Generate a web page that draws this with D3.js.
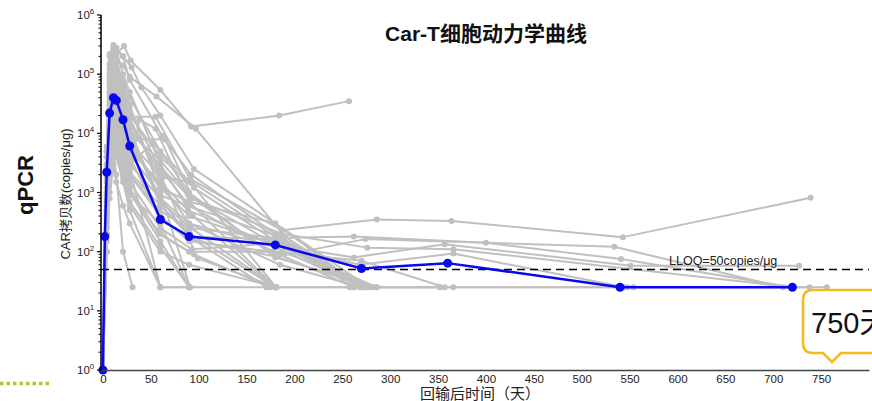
<!DOCTYPE html>
<html><head><meta charset="utf-8">
<script src="https://cdn.jsdelivr.net/npm/d3@7"></script>
<style>
body{margin:0;background:#fff}
svg{display:block}
text{font-family:"Liberation Sans",Arial,"Noto Sans CJK SC",sans-serif}
</style>
</head><body><svg id="c" width="872" height="401"></svg>
<script>
// ---- data ----
const xTicks = [0,50,100,150,200,250,300,350,400,450,500,550,600,650,700,750];
const yTicks = [1,10,100,1000,10000,100000,1000000];
const lloq = 50;
const lloqLabel = "LLOQ=50copies/μg";
const medianDays   = [0,2,4,7,11,14,21,28,60,90,180,270,360,540,720];
const medianValues = [1,180,2200,22000,40000,36000,17000,6100,350,180,130,52,64,25,25];

const p01 = [[0,1],[4,2000],[7,150000],[11,310000],[14,220000],[22,300000],[29,170000],[60,54000],[92,13000],[184,20000],[257,35000]];
const p02 = [[0,1],[4,5000],[7,80000],[11,250000],[14,180000],[21,140000],[28,90000],[56,42000],[97,12000],[190,180],[272,25],[352,25]];
const p03 = [[0,1],[4,1000],[7,30000],[11,120000],[14,200000],[21,60000],[30,19000],[55,19000],[91,1700],[187,230],[286,350],[364,330],[543,176],[739,815]];
const p04 = [[0,1],[4,800],[7,20000],[11,90000],[14,50000],[21,20000],[28,8000],[65,7900],[94,800],[181,82],[274,163],[534,121],[710,25],[738,25]];
const p05 = [[0,1],[4,300],[7,5000],[11,40000],[14,30000],[21,10000],[28,3000],[52,6800],[91,1500],[181,25],[258,25]];
const p06 = [[0,1],[4,1500],[7,60000],[11,150000],[14,100000],[21,50000],[28,15000],[60,2000],[99,77],[181,25]];
const p07 = [[0,1],[4,200],[7,1000],[11,5000],[14,2000],[21,100],[31,25]];
const p08 = [[0,1],[4,3000],[7,100000],[11,200000],[14,150000],[21,40000],[28,10000],[60,800],[90,180],[171,25]];
const p09 = [[0,1],[4,600],[7,12000],[11,30000],[14,20000],[21,8000],[28,2500],[60,25],[90,25]];
const p10 = [[0,1],[4,2500],[7,50000],[11,70000],[14,40000],[21,15000],[28,5000],[60,1500],[89,500],[180,130],[262,80],[357,134],[551,58],[727,58]];
const p11 = [[0,1],[4,400],[7,8000],[11,20000],[14,10000],[21,3000],[28,900],[60,300],[90,25],[171,25]];
const p12 = [[0,1],[4,1200],[7,40000],[11,100000],[14,60000],[21,25000],[28,7000],[62,1800],[93,1500],[185,160],[262,25]];
const p13 = [[0,1],[4,700],[7,15000],[11,50000],[14,35000],[21,12000],[28,4000],[60,350],[94,158],[181,82],[279,25]];
const p14 = [[0,1],[4,5000],[7,200000],[11,260000],[14,120000],[21,70000],[28,30000],[60,1000],[91,25]];
const p15 = [[0,1],[4,100],[7,2000],[11,8000],[14,6000],[21,2500],[28,1000],[60,150],[90,25]];
const p16 = [[0,1],[4,2000],[7,35000],[11,60000],[14,80000],[21,30000],[28,12000],[57,3000],[92,800],[187,200],[276,117],[366,110],[720,25]];
const p17 = [[0,1],[4,900],[7,22000],[11,40000],[14,25000],[21,9000],[28,3000],[60,800],[90,300],[180,120],[271,25]];
const p18 = [[0,1],[4,1800],[7,90000],[11,180000],[14,130000],[21,80000],[28,40000],[60,5000],[90,1000],[180,80],[286,25],[366,25],[554,25],[756,25]];
const p19 = [[0,1],[4,350],[7,7000],[11,22000],[14,15000],[21,5000],[28,1500],[60,250],[93,110],[185,140],[278,25]];
const p20 = [[0,1],[4,150],[7,3000],[11,10000],[14,20000],[21,8000],[28,2000],[59,500],[90,250],[180,170],[262,180],[400,141],[541,75],[720,25]];
const p21 = [[0,1],[4,2500],[7,70000],[11,120000],[14,250000],[21,100000],[28,50000],[60,3000],[94,400],[180,25],[258,25]];
const p22 = [[0,1],[4,500],[7,10000],[11,15000],[14,8000],[21,2000],[28,600],[60,100],[90,60],[181,25]];
const p23 = [[0,1],[4,1000],[7,25000],[11,60000],[14,90000],[21,40000],[28,20000],[60,4000],[95,1200],[190,120],[286,25],[352,25]];
const p24 = [[0,1],[4,250],[7,4000],[11,15000],[14,10000],[21,4000],[28,1200],[58,200],[90,100],[187,100],[283,25]];
const p25 = [[0,1],[4,4000],[7,120000],[11,160000],[14,100000],[21,35000],[28,12000],[60,600],[91,180],[182,160],[275,25]];
const p26 = [[0,1],[4,800],[7,18000],[11,35000],[14,50000],[21,20000],[28,6000],[60,1200],[90,400],[180,130],[268,60],[366,93],[545,25]];
const p27 = [[0,1],[4,600],[7,14000],[11,28000],[14,18000],[21,7000],[28,2000],[60,400],[90,150],[175,100],[270,70],[357,25],[548,25]];
const p28 = [[0,1],[4,3000],[7,140000],[11,200000],[14,280000],[21,200000],[28,80000],[62,9000],[92,2000],[180,200],[275,25]];
const p29 = [[0,1],[4,100],[7,800],[11,3000],[14,1500],[21,600],[28,300],[60,25]];
const p30 = [[0,1],[4,200],[7,2500],[11,6000],[14,4000],[21,1500],[28,500],[60,25],[90,25]];
const p31 = [[0,1],[4,1500],[7,30000],[11,80000],[14,60000],[21,30000],[28,10000],[60,3500],[90,900],[178,140],[275,25]];
const p32 = [[0,1],[4,700],[7,9000],[11,25000],[14,12000],[21,5000],[28,1800],[38,17000],[55,12000],[90,700],[180,25]];
const p33 = [[0,1],[4,2000],[7,50000],[11,100000],[14,70000],[21,25000],[28,9000],[60,700],[92,250],[181,25]];
const p34 = [[0,1],[4,400],[7,6000],[11,12000],[14,9000],[21,3500],[28,1000],[60,200],[95,90],[175,25]];
const p35 = [[0,1],[4,1200],[7,20000],[11,45000],[14,30000],[21,14000],[28,4500],[60,900],[88,600],[183,180],[268,25]];
const p36 = [[0,1],[4,6000],[7,220000],[11,280000],[14,150000],[21,60000],[28,25000],[60,2500],[90,600],[178,100],[262,25]];
const p37 = [[0,1],[4,250],[7,3500],[11,9000],[14,5000],[21,1800],[28,700],[60,120],[90,25]];
const p38 = [[0,1],[4,1800],[7,45000],[11,130000],[14,90000],[21,45000],[28,18000],[60,1500],[90,300],[185,60],[270,25]];
const p39 = [[0,1],[4,500],[7,11000],[11,20000],[14,14000],[21,6000],[28,2200],[60,600],[91,200],[180,25]];
const p40 = [[0,1],[4,900],[7,26000],[11,70000],[14,45000],[21,18000],[28,6500],[60,1200],[90,700],[180,300],[278,25]];
const p41 = [[0,1],[4,4000],[7,100000],[11,200000],[14,250000],[21,200000],[30,130000],[40,60000],[60,20000],[95,2500],[180,300],[270,25]];
const patients = [p01,p02,p03,p04,p05,p06,p07,p08,p09,p10,p11,p12,p13,p14,p15,p16,p17,p18,p19,p20,p21,p22,p23,p24,p25,p26,p27,p28,p29,p30,p31,p32,p33,p34,p35,p36,p37,p38,p39,p40,p41];

// ---- chart ----
const svg = d3.select("#c");
const x = d3.scaleLinear().domain([-2, 800]).range([101, 869]);
const y = d3.scaleLog().domain([1, 1e6]).range([370, 15]);
const line = d3.line().x(d => x(d[0])).y(d => y(d[1]));

const grey = "#c0c0c0";
const gG = svg.append("g");
patients.forEach(p => {
  gG.append("path").datum(p).attr("d", line).attr("fill","none")
    .attr("stroke", grey).attr("stroke-width", 2).attr("stroke-linejoin","round");
});
patients.forEach(p => {
  gG.selectAll(null).data(p).enter().append("circle")
    .attr("cx", d => x(d[0])).attr("cy", d => y(d[1])).attr("r", 3).attr("fill", grey);
});

// LLOQ
svg.append("line").attr("x1", x(-2)).attr("x2", x(800)).attr("y1", y(lloq)).attr("y2", y(lloq))
  .attr("stroke","#000").attr("stroke-width",1.5).attr("stroke-dasharray","8,5");
svg.append("text").attr("x", 669).attr("y", y(lloq) - 4).attr("font-size", 12.5).attr("fill","#222").text(lloqLabel);

// median
const med = medianDays.map((d,i) => [d, medianValues[i]]);
svg.append("path").datum(med).attr("d", line).attr("fill","none").attr("stroke","#0808ee").attr("stroke-width",2.5);
svg.selectAll(".md").data(med).enter().append("circle")
  .attr("cx", d => x(d[0])).attr("cy", d => y(d[1])).attr("r", 4.5).attr("fill","#0808ee");

// x axis
const xAxis = d3.axisBottom(x).tickValues(xTicks).tickSize(0).tickPadding(5);
const gx = svg.append("g").attr("transform", "translate(0,370)").call(xAxis);
gx.select(".domain").attr("stroke","#444").attr("stroke-width",1.5);
gx.selectAll("text").attr("font-size", 11.5).attr("fill","#222").attr("font-family",'"Liberation Sans",Arial,sans-serif');

// y axis
const gy = svg.append("g").attr("transform","translate(101,0)");
gy.append("line").attr("x1",0).attr("x2",0).attr("y1",y(1e6)).attr("y2",y(1)).attr("stroke","#000").attr("stroke-width",1.5);
const minor = [];
for (let k = 0; k < 6; k++) for (let m = 2; m <= 9; m++) minor.push(m * Math.pow(10, k));
gy.selectAll(".mn").data(minor).enter().append("line")
  .attr("x1",-2.5).attr("x2",0).attr("y1",d=>y(d)).attr("y2",d=>y(d)).attr("stroke","#000").attr("stroke-width",1);
gy.selectAll(".mj").data(yTicks).enter().append("line")
  .attr("x1",-4).attr("x2",0).attr("y1",d=>y(d)).attr("y2",d=>y(d)).attr("stroke","#000").attr("stroke-width",1.2);
const yl = gy.selectAll(".yl").data(yTicks).enter().append("text")
  .attr("x", -24).attr("y", d => y(d) + 4).attr("font-size",11.5).attr("fill","#222");
yl.append("tspan").text("10");
yl.append("tspan").attr("dy",-5).attr("font-size",8).text(d => Math.round(Math.log10(d)));

// titles
svg.append("text").attr("x",486).attr("y",41).attr("text-anchor","middle").attr("font-size",21).attr("font-weight","bold")
  .attr("fill","#111").text("Car-T细胞动力学曲线");
svg.append("text").attr("transform","translate(33,185) rotate(-90)").attr("text-anchor","middle")
  .attr("font-size",22).attr("font-weight","bold").attr("fill","#111").text("qPCR");
svg.append("text").attr("transform","translate(70,194) rotate(-90)").attr("text-anchor","middle")
  .attr("font-size",13).attr("fill","#222").text("CAR拷贝数(copies/μg)");
svg.append("text").attr("x",480).attr("y",399).attr("text-anchor","middle").attr("font-size",15).attr("fill","#222")
  .text("回输后时间（天）");

// green dotted decoration
svg.append("line").attr("x1",0).attr("x2",52).attr("y1",383.5).attr("y2",383.5)
  .attr("stroke","#a9c83a").attr("stroke-width",3.5).attr("stroke-dasharray","3.5,3");

// callout
svg.append("path").attr("d","M813,290 H900 V353 H841 L832,362 L823,353 H813 Q803,353 803,343 V300 Q803,290 813,290 Z")
  .attr("fill","#fff").attr("stroke","#f6b81c").attr("stroke-width",2.5);
svg.append("text").attr("x",811).attr("y",333).attr("font-size",29).attr("fill","#111").text("750天");
</script>
</body></html>
